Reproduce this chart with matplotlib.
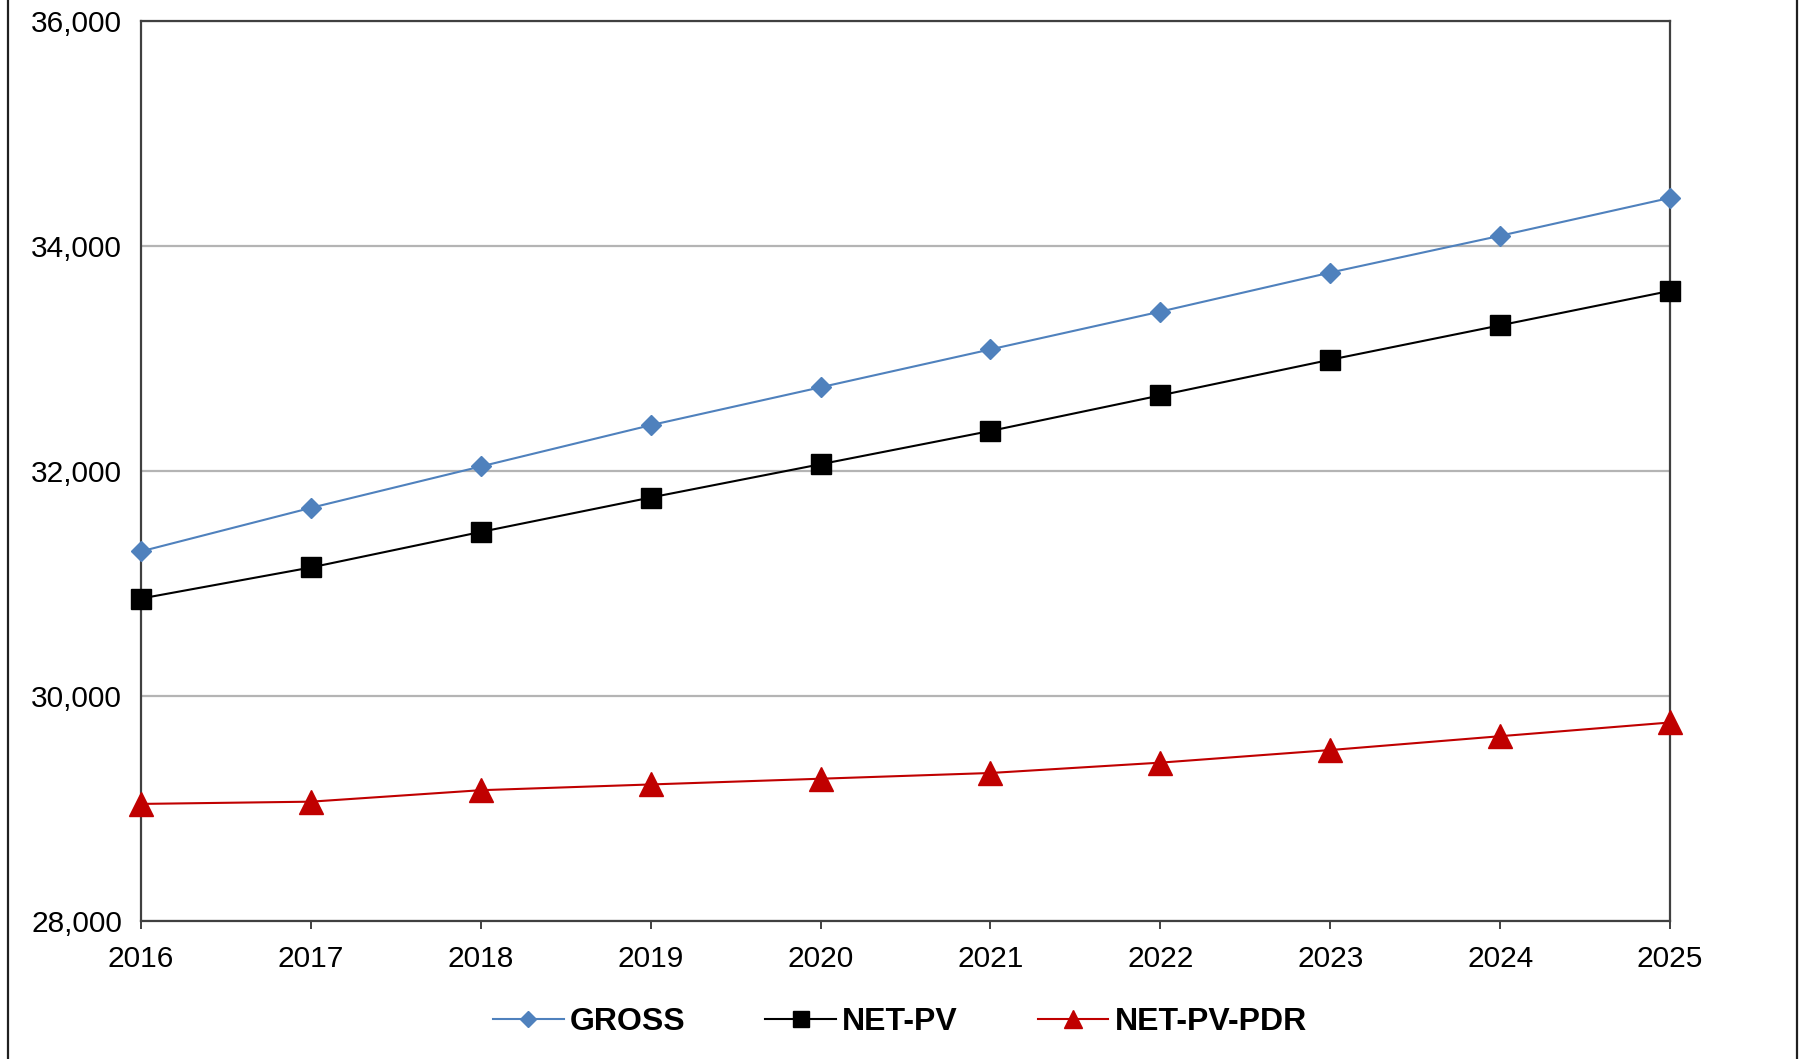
import matplotlib.pyplot as plt
from matplotlib.lines import Line2D
from matplotlib.ticker import FuncFormatter

plt.rcParams['font.family'] = ['Liberation Sans', 'DejaVu Sans']

# values
years = [2016, 2017, 2018, 2019, 2020, 2021, 2022, 2023, 2024, 2025]
gross = [31286, 31673, 32041, 32408, 32745, 33082, 33418, 33765, 34092, 34429]
net_pv = [30867, 31143, 31459, 31765, 32061, 32357, 32673, 32990, 33296, 33602]
net_pv_pdr = [29041, 29061, 29163, 29214, 29265, 29316, 29408, 29520, 29643, 29765]
y_ticks = [28000, 30000, 32000, 34000, 36000]

fig = plt.figure(figsize=(18, 10.59), dpi=100)
ax = fig.add_axes([0.0783, 0.1303, 0.8495, 0.8497])

ax.plot(years, gross, color='#4f81bd', lw=1.5, marker='D', ms=10,
        label='GROSS', clip_on=False, zorder=3)
ax.plot(years, net_pv, color='black', lw=1.5, marker='s', ms=15,
        label='NET-PV', clip_on=False, zorder=3)
ax.plot(years, net_pv_pdr, color='#c00000', lw=1.5, marker='^', ms=17,
        label='NET-PV-PDR', clip_on=False, zorder=3)

ax.set_xlim(2016, 2025)
ax.set_ylim(28000, 36000)
ax.set_xticks(years)
ax.set_yticks(y_ticks)
ax.yaxis.set_major_formatter(FuncFormatter(lambda v, p: f'{int(v):,}'))

ax.grid(axis='y', color='#b4b4b4', lw=1.6)
ax.set_axisbelow(True)
for s in ax.spines.values():
    s.set_color('#404040')
    s.set_linewidth(1.6)

ax.tick_params(axis='x', direction='out', length=6, width=1.4, color='#404040',
               labelsize=21.5, pad=11)
ax.tick_params(axis='y', length=0, labelsize=21.5, pad=13.5)

fig.legend(loc='center', bbox_to_anchor=(0.5, 0.035), ncol=3, frameon=False,
           prop={'weight': 'bold', 'size': 23}, handlelength=2.2,
           handletextpad=0.2, columnspacing=2.5, markerscale=0.8)

# outer chart border (left and right edges visible)
fig.add_artist(Line2D([0.0045, 0.0045], [0, 1], color='#202020', lw=1.6,
                      transform=fig.transFigure))
fig.add_artist(Line2D([0.9985, 0.9985], [0, 1], color='#202020', lw=1.6,
                      transform=fig.transFigure))

fig.savefig('out.png', dpi=100)
